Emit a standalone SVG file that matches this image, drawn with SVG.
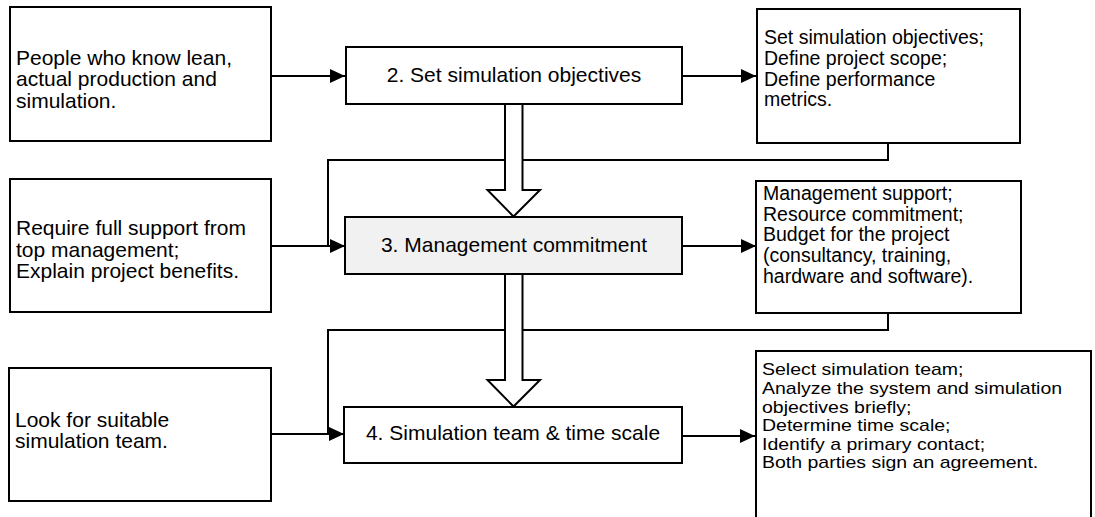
<svg xmlns="http://www.w3.org/2000/svg" width="1095" height="517" viewBox="0 0 1095 517">
<defs>
<style>
.box{fill:#fff;stroke:#000;stroke-width:2}
.gbox{fill:#f1f1f1;stroke:#000;stroke-width:2}
.t{font-family:"Liberation Sans",Arial,sans-serif;font-size:21px;fill:#000}
.r{font-family:"Liberation Sans",Arial,sans-serif;font-size:19.5px;fill:#000}
.c{font-family:"Liberation Sans",Arial,sans-serif;font-size:21px;fill:#000;text-anchor:middle}
.ln{fill:none;stroke:#000;stroke-width:2}
.big{fill:#fff;stroke:#000;stroke-width:2;stroke-linejoin:miter}
</style>
<marker id="ah" markerUnits="userSpaceOnUse" markerWidth="16" markerHeight="14" refX="15" refY="7" orient="auto">
<path d="M0,0 L15,7 L0,14 Z" fill="#000"/>
</marker>
</defs>
<rect width="1095" height="517" fill="#fff"/>

<g id="connectors">
<path class="ln" d="M271,76 H345" marker-end="url(#ah)"/>
<path class="ln" d="M682,76 H756" marker-end="url(#ah)"/>
<path class="ln" d="M271,246 H345" marker-end="url(#ah)"/>
<path class="ln" d="M682,246 H756" marker-end="url(#ah)"/>
<path class="ln" d="M271,434 H344" marker-end="url(#ah)"/>
<path class="ln" d="M682,436 H755" marker-end="url(#ah)"/>
<path class="ln" d="M888,143 V160 H523"/>
<path class="ln" d="M505,160 H328 V246"/>
<path class="ln" d="M888,313 V330 H523"/>
<path class="ln" d="M505,330 H328 V434"/>
<path class="big" d="M505,104 V190 H487.5 L513.5,216.5 L540,190 H522.5 V104"/>
<path class="big" d="M505,274 V380 H487.5 L513.5,406.5 L540,380 H522.5 V274"/>
</g>

<g id="in1">
<rect class="box" x="10" y="7" width="261" height="134"/>
<text class="t" x="16" y="64.5">People who know lean,</text>
<text class="t" x="16" y="86">actual production and</text>
<text class="t" x="16" y="107.5">simulation.</text>
</g>
<g id="step2">
<rect class="box" x="346" y="47" width="336" height="57"/>
<text class="c" x="514" y="82">2. Set simulation objectives</text>
</g>
<g id="out1">
<rect class="box" x="757" y="9" width="263" height="134"/>
<text class="r" x="764" y="44">Set simulation objectives;</text>
<text class="r" x="764" y="65">Define project scope;</text>
<text class="r" x="764" y="85.5">Define performance</text>
<text class="r" x="764" y="106">metrics.</text>
</g>

<g id="in2">
<rect class="box" x="10" y="179" width="261" height="133"/>
<text class="t" x="16" y="235">Require full support from</text>
<text class="t" x="16" y="256.5">top management;</text>
<text class="t" x="16" y="278">Explain project benefits.</text>
</g>
<g id="step3">
<rect class="gbox" x="345" y="217" width="337" height="57"/>
<text class="c" x="514" y="252">3. Management commitment</text>
</g>
<g id="out2">
<rect class="box" x="756" y="181" width="265" height="132"/>
<text class="r" x="763" y="200">Management support;</text>
<text class="r" x="763" y="220.5">Resource commitment;</text>
<text class="r" x="763" y="241">Budget for the project</text>
<text class="r" x="763" y="262">(consultancy, training,</text>
<text class="r" x="763" y="283">hardware and software).</text>
</g>

<g id="in3">
<rect class="box" x="9" y="368" width="262" height="133"/>
<text class="t" x="15" y="427">Look for suitable</text>
<text class="t" x="15" y="448">simulation team.</text>
</g>
<g id="step4">
<rect class="box" x="344" y="407" width="338" height="56"/>
<text class="c" x="513" y="440">4. Simulation team &amp; time scale</text>
</g>
<g id="out3">
<rect class="box" x="756" y="351" width="335" height="180"/>
<g transform="scale(1,0.84)">
<text class="r" x="762" y="446.4">Select simulation team;</text>
<text class="r" x="762" y="469.0">Analyze the system and simulation</text>
<text class="r" x="762" y="491.3">objectives briefly;</text>
<text class="r" x="762" y="513.7">Determine time scale;</text>
<text class="r" x="762" y="535.7">Identify a primary contact;</text>
<text class="r" x="762" y="557.7">Both parties sign an agreement.</text>
</g>
</g>
</svg>
